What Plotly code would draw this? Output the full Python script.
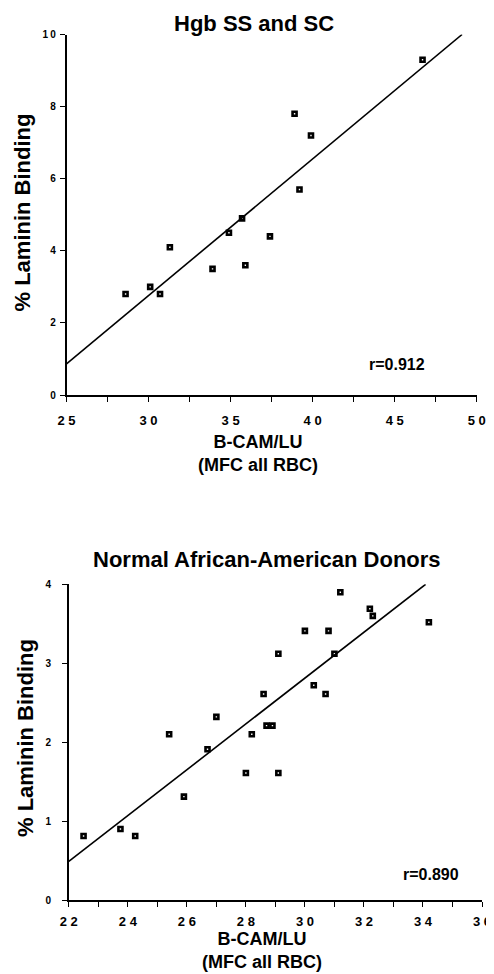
import numpy as np
import plotly.graph_objects as go

W, H = 494, 974
OFF = 8  # page body margin offset of the figure inside the browser window

# ---------------- data ----------------
# Top panel: Hgb SS and SC
ss_x = [46.7, 38.9, 39.9, 39.2, 35.7, 34.9, 37.4, 31.3, 33.9, 35.9, 30.1, 28.6, 30.7]
ss_y = [9.3, 7.8, 7.2, 5.7, 4.9, 4.5, 4.4, 4.1, 3.5, 3.6, 3.0, 2.8, 2.8]
ss_r = "r=0.912"
ss_xticks = [25, 30, 35, 40, 45, 50]
ss_yticks = [0, 2, 4, 6, 8, 10]

# Bottom panel: Normal African-American donors
aa_x = [31.2, 32.2, 32.3, 34.2, 30.0, 30.8, 29.1, 31.0, 30.3, 30.7, 28.6, 27.0,
        28.7, 28.9, 25.4, 28.2, 26.7, 28.0, 29.1, 25.9, 23.75, 22.5, 24.25]
aa_y = [3.90, 3.69, 3.60, 3.52, 3.41, 3.41, 3.12, 3.12, 2.72, 2.61, 2.61, 2.32,
        2.21, 2.21, 2.10, 2.10, 1.91, 1.61, 1.61, 1.31, 0.90, 0.81, 0.81]
aa_r = "r=0.890"
aa_xticks = [22, 24, 26, 28, 30, 32, 34, 36]
aa_yticks = [0, 1, 2, 3, 4]

titles = ["Hgb SS and SC", "Normal African-American Donors"]
x_title = "B-CAM/LU<br>(MFC all RBC)"
y_title = "% Laminin Binding"

FONT = "Liberation Sans, Arial, Helvetica, sans-serif"


def px(x):
    return (x - OFF) / W


def py(y):
    return 1 - (y - OFF) / H


def spaced(v, sep):
    return sep.join(str(v))


def fit_line(x, y, x0, ymax):
    m, b = np.polyfit(x, y, 1)
    x1 = (ymax - b) / m
    xs = np.array([x0, x1])
    return xs, m * xs + b


fig = go.Figure()

panels = [
    dict(x=ss_x, y=ss_y, xr=[25, 50], yr=[0, 10], xt=ss_xticks, yt=ss_yticks,
         minor=2.5, xa="x", ya="y",
         xdom=[px(66.5), px(476.7)], ydom=[py(395), py(34.5)],
         r=ss_r, rpos=(397, 364), title_pos=(254, 23),
         xt_pos=(258, 454), yt_pos=(22.5, 213), xstand=8, ystand=2),
    dict(x=aa_x, y=aa_y, xr=[22, 36], yr=[0, 4], xt=aa_xticks, yt=aa_yticks,
         minor=1, xa="x2", ya="y2",
         xdom=[px(68.8), px(482)], ydom=[py(900), py(584.3)],
         r=aa_r, rpos=(430.7, 874), title_pos=(266.5, 559),
         xt_pos=(262, 950), yt_pos=(25, 738), xstand=4, ystand=9),
]

annotations = []
for i, p in enumerate(panels):
    lx, ly = fit_line(p["x"], p["y"], p["xr"][0], p["yr"][1])
    fig.add_trace(go.Scatter(x=lx, y=ly, mode="lines",
                             line=dict(color="black", width=1.6),
                             xaxis=p["xa"], yaxis=p["ya"], showlegend=False,
                             cliponaxis=False))
    fig.add_trace(go.Scatter(x=p["x"], y=p["y"], mode="markers",
                             marker=dict(symbol="square-open", size=4,
                                         color="black",
                                         line=dict(color="black", width=2.6)),
                             xaxis=p["xa"], yaxis=p["ya"], showlegend=False,
                             cliponaxis=False))
    sfx = "" if i == 0 else "2"
    common = dict(showgrid=False, zeroline=False, showline=True,
                  linecolor="black", linewidth=1.6, ticks="outside",
                  tickcolor="black", tickwidth=1.4, ticklen=5,
                  automargin=False)
    fig.update_layout(**{
        "xaxis" + sfx: dict(
            range=p["xr"], domain=p["xdom"], anchor="y" + sfx,
            tickvals=p["xt"], ticktext=[spaced(v, " ") for v in p["xt"]],
            tickfont=dict(family=FONT, size=13, color="black", weight="bold"),
            ticklabelstandoff=p["xstand"],
            minor=dict(dtick=p["minor"], tick0=p["xr"][0], ticks="outside",
                       ticklen=5, tickwidth=1.4, tickcolor="black",
                       showgrid=False),
            **common),
        "yaxis" + sfx: dict(
            range=p["yr"], domain=p["ydom"], anchor="x" + sfx,
            tickvals=p["yt"], ticktext=[spaced(v, "\u2009") for v in p["yt"]],
            tickfont=dict(family=FONT, size=10, color="black", weight="bold"),
            ticklabelstandoff=p["ystand"],
            **common),
    })
    bold = dict(family=FONT, color="black", weight="bold")
    annotations += [
        dict(text=titles[i], x=px(p["title_pos"][0]), y=py(p["title_pos"][1]),
             font=dict(size=22, **bold)),
        dict(text=x_title, x=px(p["xt_pos"][0]), y=py(p["xt_pos"][1]),
             font=dict(size=18, **bold)),
        dict(text=y_title, x=px(p["yt_pos"][0]), y=py(p["yt_pos"][1]),
             textangle=-90, font=dict(size=22, **bold)),
        dict(text=p["r"], x=px(p["rpos"][0]), y=py(p["rpos"][1]),
             font=dict(size=16, **bold)),
    ]

for a in annotations:
    a.update(xref="paper", yref="paper", showarrow=False,
             xanchor="center", yanchor="middle")

fig.update_layout(template="none", width=W, height=H,
                  margin=dict(l=0, r=0, t=0, b=0, autoexpand=False),
                  paper_bgcolor="white", plot_bgcolor="white",
                  annotations=annotations, showlegend=False)

fig.write_html("out.html")
